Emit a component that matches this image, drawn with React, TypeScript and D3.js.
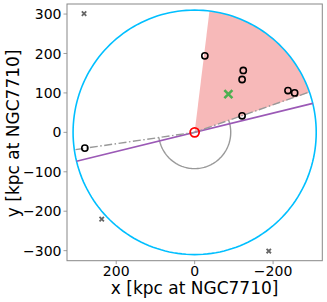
import React from "react";
import * as d3 from "d3";

// Data (kpc at NGC7710)
const satX = [-26, -124, -121, -238, -255, -121, 280];
const satY = [194, 157, 134, 106, 100, 42, -40];
const farX = [282, 237, -189];
const farY = [301, -220, -301];
const centroidX = [-86];
const centroidY = [97];
const hostRadius = [310];
const wedgeAngles = [97, 161]; // degrees
const dashAngles = [160.7, -8.2]; // degrees
const planeAngles = [166.3, -13.7]; // degrees
const arcRadius = [92];
const xTicks = [200, 0, -200];
const yTicks = [300, 200, 100, 0, -100, -200, -300];
const lim = 325.5;

const W = 327, H = 302;
const L = 67, R = 322.3, T = 4, B = 260.7;
const FONT = "DejaVu Sans, sans-serif";

export default function App() {
  const x = d3.scaleLinear().domain([lim, -lim]).range([L, R]);
  const y = d3.scaleLinear().domain([-lim, lim]).range([B, T]);
  const rad = (a: number) => (a * Math.PI) / 180;
  const pt = (r: number, a: number) => [x(r * Math.cos(rad(a))), y(r * Math.sin(rad(a)))];

  const circlePts = d3.range(0, 361, 2).map((a) => pt(hostRadius[0], a));
  const circlePath = d3.line()(circlePts as [number, number][]) + "Z";

  const wedgePts: [number, number][] = [[x(0), y(0)]];
  for (let a = wedgeAngles[0]; a <= wedgeAngles[1] + 0.001; a += 1) wedgePts.push(pt(hostRadius[0], a) as [number, number]);
  const wedgePath = d3.line()(wedgePts) + "Z";

  const arcPts: [number, number][] = [];
  for (let a = dashAngles[0]; a <= 360 + dashAngles[1] + 0.001; a += 2) arcPts.push(pt(arcRadius[0], a) as [number, number]);
  arcPts.push(pt(arcRadius[0], 360 + dashAngles[1]) as [number, number]);
  const arcPath = d3.line()(arcPts);

  const dashPath = d3.line()([
    pt(307, dashAngles[1]) as [number, number],
    [x(0), y(0)],
    pt(307, dashAngles[0]) as [number, number],
  ]);
  const planePath = d3.line()([
    pt(hostRadius[0], planeAngles[0]) as [number, number],
    pt(hostRadius[0], planeAngles[1]) as [number, number],
  ]);

  const cross = (cx: number, cy: number, s: number) =>
    `M${cx - s},${cy - s}L${cx + s},${cy + s}M${cx - s},${cy + s}L${cx + s},${cy - s}`;

  return (
    <svg width={W} height={H} style={{ position: "absolute", left: 0, top: 0, background: "#fff" }}>
      <defs>
        <clipPath id="ax">
          <rect x={L} y={T} width={R - L} height={B - T} />
        </clipPath>
      </defs>
      <g clipPath="url(#ax)">
        <path d={wedgePath} fill="#f08080" fillOpacity={0.55} stroke="none" />
        <path d={circlePath} fill="none" stroke="#00bfff" strokeWidth={1.6} />
        <path d={arcPath || ""} fill="none" stroke="#999" strokeWidth={1.4} />
        <path d={planePath || ""} fill="none" stroke="#9b59b6" strokeWidth={1.6} />
        <path d={dashPath || ""} fill="none" stroke="#999" strokeWidth={1.4} strokeDasharray="8,2.5,1.5,2.5" />
        {satX.map((v, i) => (
          <circle key={i} cx={x(v)} cy={y(satY[i])} r={3.1} fill="none" stroke="#000" strokeWidth={1.6} />
        ))}
        {farX.map((v, i) => (
          <path key={i} d={cross(x(v), y(farY[i]), 2.2)} stroke="#666" strokeWidth={1.8} fill="none" />
        ))}
        {centroidX.map((v, i) => (
          <path key={i} d={cross(x(v), y(centroidY[i]), 4)} stroke="#4caf50" strokeWidth={2.6} fill="none" />
        ))}
        <circle cx={x(0)} cy={y(0)} r={4.5} fill="none" stroke="#ff0000" strokeWidth={1.8} />
      </g>
      <rect x={L} y={T} width={R - L} height={B - T} fill="none" stroke="#888" strokeWidth={1} />
      {xTicks.map((t) => (
        <g key={t}>
          <line x1={x(t)} x2={x(t)} y1={B} y2={B + 3.5} stroke="#888" strokeWidth={0.8} />
          <text x={x(t)} y={276} textAnchor="middle" fontFamily={FONT} fontSize={14} fill="#000">
            {t < 0 ? "\u2212" + Math.abs(t) : t}
          </text>
        </g>
      ))}
      {yTicks.map((t) => (
        <g key={t}>
          <line x1={L - 3.5} x2={L} y1={y(t)} y2={y(t)} stroke="#888" strokeWidth={0.8} />
          <text x={61.5} y={y(t)} dy="0.36em" textAnchor="end" fontFamily={FONT} fontSize={14} fill="#000">
            {t < 0 ? "\u2212" + Math.abs(t) : t}
          </text>
        </g>
      ))}
      <text x={(L + R) / 2} y={294} textAnchor="middle" fontFamily={FONT} fontSize={17} fill="#000">
        x [kpc at NGC7710]
      </text>
      <text
        transform={`translate(18.5,${(T + B) / 2 + 1}) rotate(-90)`}
        textAnchor="middle"
        fontFamily={FONT}
        fontSize={17}
        fill="#000"
      >
        y [kpc at NGC7710]
      </text>
    </svg>
  );
}
